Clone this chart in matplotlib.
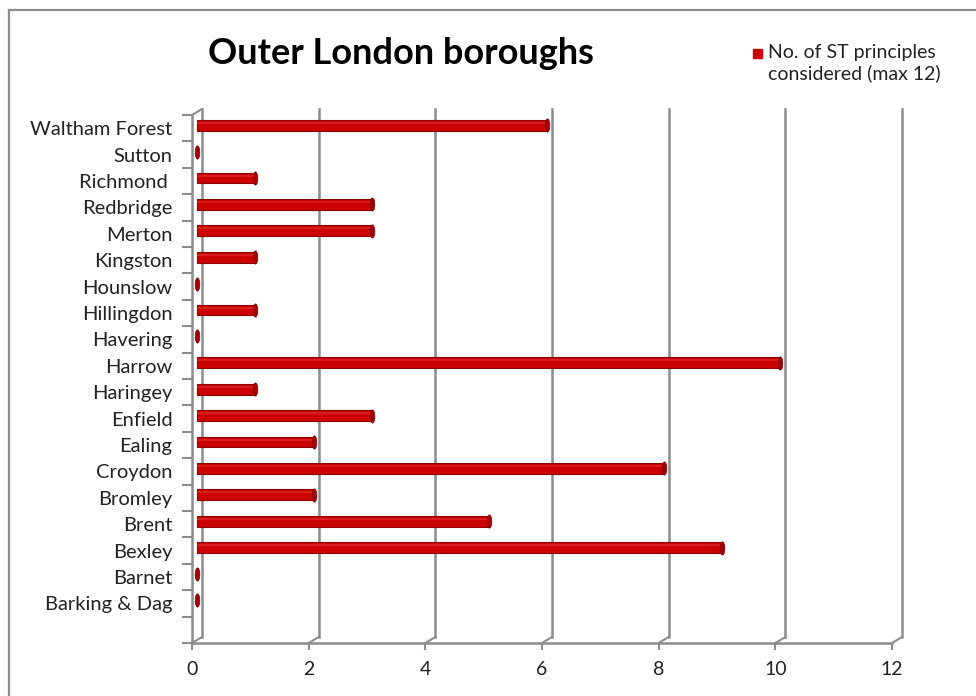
import matplotlib
matplotlib.use("Agg")
import matplotlib.pyplot as plt
from matplotlib.lines import Line2D
from matplotlib.patches import Rectangle
from matplotlib.path import Path
from matplotlib.transforms import Affine2D, IdentityTransform, offset_copy

plt.rcParams["font.family"] = ["Lato", "DejaVu Sans"]

boroughs = [
    "Barking & Dag", "Barnet", "Bexley", "Brent", "Bromley", "Croydon",
    "Ealing", "Enfield", "Haringey", "Harrow", "Havering", "Hillingdon",
    "Hounslow", "Kingston", "Merton", "Redbridge", "Richmond ", "Sutton",
    "Waltham Forest",
]
principles = [0, 0, 9, 5, 2, 8, 2, 3, 1, 10, 0, 1, 0, 1, 3, 3, 1, 0, 6]
series_label = "No. of ST principles\nconsidered (max 12)"
x_ticks = [0, 2, 4, 6, 8, 10, 12]

GRID = "#8c8c8c"
BAR = "#cc0000"
BAR_DARK = "#8a0000"
BAR_LIGHT = "#e84a4a"
DEPTH = (10, 6)  # pixel shift of the back wall

W, H = 976, 696
fig = plt.figure(figsize=(W / 100, H / 100), dpi=100)
ax = fig.add_axes([192 / W, (H - 643) / H, 700 / W, 528 / H])
ymin, ymax = -1.5, len(boroughs) - 0.5
ypos = list(range(len(boroughs)))

# axes, ticks and labels (limits set afterwards so ticks don't widen them)
for side in ("top", "right"):
    ax.spines[side].set_visible(False)
for side in ("left", "bottom"):
    ax.spines[side].set_color(GRID)
    ax.spines[side].set_linewidth(1.8)
ax.set_xticks(x_ticks)
ax.set_xticklabels([str(v) for v in x_ticks], fontsize=14, color="#222222")
ax.tick_params(axis="x", length=5, width=1.5, color=GRID, pad=8)
ax.set_yticks(ypos)
ax.set_yticklabels(boroughs, fontsize=14.5, color="#222222")
ax.set_yticks([y + 0.5 for y in range(-2, len(boroughs))], minor=True)
ax.tick_params(axis="y", which="major", length=0, pad=14)
ax.tick_params(axis="y", which="minor", length=7, width=1.5, color=GRID)
ax.patch.set_visible(False)

# chart frame
fig.add_artist(Line2D([9 / W, 9 / W], [0, 1 - 10 / H], transform=fig.transFigure,
                      color=GRID, lw=1.6))
fig.add_artist(Line2D([9 / W, 1], [1 - 10 / H, 1 - 10 / H], transform=fig.transFigure,
                      color=GRID, lw=1.6))

ax.set_xlim(0, 12)
ax.set_ylim(ymin, ymax)
back = offset_copy(ax.transData, fig=fig, x=DEPTH[0], y=DEPTH[1], units="dots")
mid = offset_copy(ax.transData, fig=fig, x=DEPTH[0] / 2, y=DEPTH[1] / 2, units="dots")

# back wall gridlines with their floor diagonals
for xv in x_ticks:
    ax.plot([xv, xv], [ymin, ymax], transform=back, color=GRID, lw=1.8,
            clip_on=False, zorder=1)
    fx, fy = ax.transData.transform((xv, ymin))
    ax.add_line(Line2D([fx, fx + DEPTH[0]], [fy, fy + DEPTH[1]],
                       transform=IdentityTransform(), color=GRID, lw=1.5,
                       clip_on=False, zorder=1))
# top of the side wall
tx, ty = ax.transData.transform((0, ymax))
ax.add_line(Line2D([tx, tx + DEPTH[0]], [ty, ty + DEPTH[1]],
                   transform=IdentityTransform(), color=GRID, lw=1.5,
                   clip_on=False, zorder=1))

# cylinder-style bars
ax.barh(ypos, principles, height=0.41, color=BAR, edgecolor=BAR_DARK,
        linewidth=0.8, transform=mid, zorder=3)
ax.barh([y + 0.09 for y in ypos], principles, height=0.08, color=BAR_LIGHT,
        linewidth=0, alpha=0.4, transform=mid, zorder=4)
cap = Path.unit_circle().transformed(Affine2D().scale(0.35, 1.0))
ax.plot(principles, ypos, linestyle="none", marker=cap, markersize=9.5,
        color="#a30000", markeredgecolor="#7a0000", markeredgewidth=0.5,
        transform=mid, zorder=5)
ax.set_xlim(0, 12)
ax.set_ylim(ymin, ymax)

fig.text(401 / W, 1 - 54 / H, "Outer London boroughs", fontsize=26,
         fontweight="bold", ha="center", va="center", color="#000000")

# legend
fig.add_artist(Rectangle((753 / W, 1 - 58 / H), 9 / W, 9 / H,
                         transform=fig.transFigure, color=BAR))
fig.text(768 / W, 1 - 44 / H, series_label, fontsize=14, ha="left", va="top",
         color="#222222", linespacing=1.2)

fig.savefig("out.png", dpi=100)
